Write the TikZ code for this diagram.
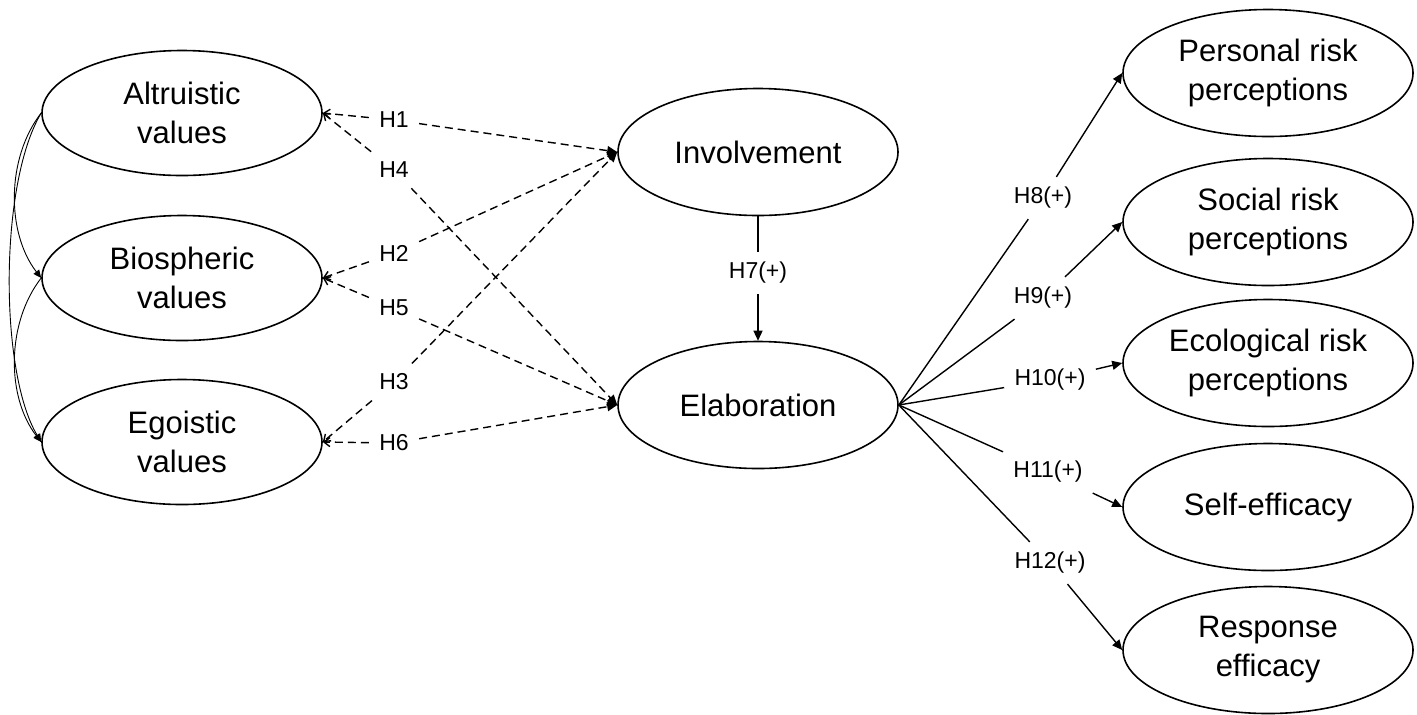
\documentclass[tikz,border=0pt]{standalone}
\usepackage{fontspec}
\setmainfont{Liberation Sans}
\usetikzlibrary{arrows.meta,shapes.geometric}

\begin{document}
\begin{tikzpicture}[x=0.5pt,y=-0.5pt,
  latent/.style={draw,ellipse,line width=0.8pt,inner sep=1pt,
    minimum width=140pt,minimum height=62.5pt,align=center,
    font=\fontsize{15.5}{19.5}\selectfont},
  hyp/.style={inner sep=5pt,font=\fontsize{11.5}{13}\selectfont},
  dashlink/.style={line width=0.7pt,dash pattern=on 4pt off 2.5pt},
  solidlink/.style={line width=0.7pt},
  corrlink/.style={line width=0.45pt,-{Triangle[length=4pt,width=3.5pt]}},
  headtip/.style={-{Triangle[length=5pt,width=4.5pt]}},
  valtip/.style={-{Straight Barb[length=3pt,width=4.5pt]}}]
  \useasboundingbox (0,0) rectangle (1417,714);

  % values
  \node[latent] (alt) at (182,113) {Altruistic\\values};
  \node[latent] (bio) at (182,278) {Biospheric\\values};
  \node[latent] (ego) at (182,442) {Egoistic\\values};

  % mediators
  \node[latent,minimum height=63.5pt] (inv) at (758,152) {Involvement};
  \node[latent,minimum height=63.5pt] (elab) at (758,405) {Elaboration};

  % outcomes
  \node[latent,minimum width=145pt,minimum height=63.5pt] (pers) at (1268,73) {Personal risk\\perceptions};
  \node[latent,minimum width=145pt,minimum height=63.5pt] (soc) at (1268,222) {Social risk\\perceptions};
  \node[latent,minimum width=145pt,minimum height=63.5pt] (eco) at (1268,363) {Ecological risk\\perceptions};
  \node[latent,minimum width=145pt,minimum height=63.5pt] (self) at (1268,507) {Self-efficacy};
  \node[latent,minimum width=145pt,minimum height=63.5pt] (resp) at (1268,650) {Response\\efficacy};

  % hypotheses
  \node[hyp] (h1) at (394,120) {H1};
  \node[hyp] (h4) at (394,170) {H4};
  \node[hyp] (h2) at (394,253) {H2};
  \node[hyp] (h5) at (394,308) {H5};
  \node[hyp] (h3) at (394,382) {H3};
  \node[hyp] (h6) at (394,443) {H6};
  \node[hyp] (h7) at (758,273) {H7(+)};
  \node[hyp] (h8) at (1043,198) {H8(+)};
  \node[hyp] (h9) at (1043,298) {H9(+)};
  \node[hyp] (h10) at (1050,380) {H10(+)};
  \node[hyp] (h11) at (1048,472) {H11(+)};
  \node[hyp] (h12) at (1050,563) {H12(+)};

  % correlations among values
  \draw[corrlink] (alt.west) .. controls +(-35,45) and +(-35,-45) .. (bio.west);
  \draw[corrlink] (alt.west) .. controls +(-42,70) and +(-42,-70) .. (ego.west);
  \draw[corrlink] (bio.west) .. controls +(-35,45) and +(-35,-45) .. (ego.west);

  % values -> involvement / elaboration
  \draw[dashlink,valtip] (h1) -- (alt.east);
  \draw[dashlink,headtip] (h1) -- (inv.west);
  \draw[dashlink,valtip] (h4) -- (alt.east);
  \draw[dashlink,headtip] (h4) -- (elab.west);
  \draw[dashlink,valtip] (h2) -- (bio.east);
  \draw[dashlink,headtip] (h2) -- (inv.west);
  \draw[dashlink,valtip] (h5) -- (bio.east);
  \draw[dashlink,headtip] (h5) -- (elab.west);
  \draw[dashlink,valtip] (h3) -- (ego.east);
  \draw[dashlink,headtip] (h3) -- (inv.west);
  \draw[dashlink,valtip] (h6) -- (ego.east);
  \draw[dashlink,headtip] (h6) -- (elab.west);

  \draw[solidlink] (inv.south) -- (h7);
  \draw[solidlink,headtip] (h7) -- (elab.north);

  % elaboration -> outcomes
  \draw[solidlink] (elab.east) -- (h8);
  \draw[solidlink,headtip] (h8) -- (pers.west);
  \draw[solidlink] (elab.east) -- (h9);
  \draw[solidlink,headtip] (h9) -- (soc.west);
  \draw[solidlink] (elab.east) -- (h10);
  \draw[solidlink,headtip] (h10) -- (eco.west);
  \draw[solidlink] (elab.east) -- (h11);
  \draw[solidlink,headtip] (h11) -- (self.west);
  \draw[solidlink] (elab.east) -- (h12);
  \draw[solidlink,headtip] (h12) -- (resp.west);
\end{tikzpicture}
\end{document}
